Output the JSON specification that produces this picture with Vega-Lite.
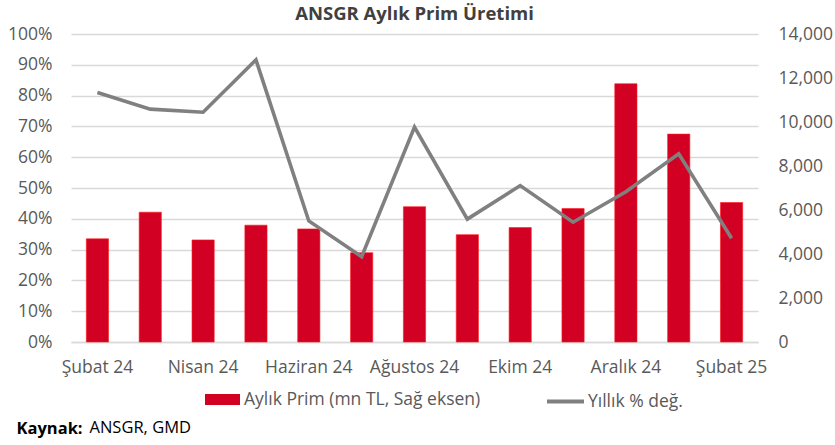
{
  "$schema": "https://vega.github.io/schema/vega-lite/v6.json",
  "background": "white",
  "padding": {"left": 7, "right": 2, "top": 4, "bottom": 4},
  "config": {
    "font": "Open Sans",
    "view": {"stroke": null},
    "concat": {"spacing": 0}
  },
  "title": {"text": "ANSGR, GMD", "orient": "bottom", "anchor": "start", "fontSize": 16.5, "fontWeight": "normal", "color": "#000000", "font": "Open Sans", "dx": 82, "dy": -18, "offset": 0},
  "vconcat": [
    {
      "title": {"text": "Kaynak:", "orient": "bottom", "anchor": "start", "fontSize": 16.5, "fontWeight": "bold", "color": "#000000", "font": "Open Sans", "dx": 9, "offset": 11},
      "vconcat": [
        {
          "width": 687,
          "height": 308,
          "title": {"text": "ANSGR Aylık Prim Üretimi", "fontSize": 18.5, "fontWeight": "bold", "color": "#404040", "font": "Open Sans", "anchor": "middle", "offset": 2},
          "data": {"values": [
            {"ay": "Şubat 24", "prim": 4690, "degisim": 0.810},
            {"ay": "Mart 24", "prim": 5900, "degisim": 0.756},
            {"ay": "Nisan 24", "prim": 4640, "degisim": 0.746},
            {"ay": "Mayıs 24", "prim": 5310, "degisim": 0.916},
            {"ay": "Haziran 24", "prim": 5140, "degisim": 0.393},
            {"ay": "Temmuz 24", "prim": 4060, "degisim": 0.277},
            {"ay": "Ağustos 24", "prim": 6150, "degisim": 0.698},
            {"ay": "Eylül 24", "prim": 4880, "degisim": 0.399},
            {"ay": "Ekim 24", "prim": 5200, "degisim": 0.508},
            {"ay": "Kasım 24", "prim": 6065, "degisim": 0.389},
            {"ay": "Aralık 24", "prim": 11740, "degisim": 0.488},
            {"ay": "Ocak 25", "prim": 9450, "degisim": 0.611},
            {"ay": "Şubat 25", "prim": 6340, "degisim": 0.337}
          ]},
          "encoding": {
            "x": {
              "field": "ay", "type": "ordinal", "sort": null,
              "scale": {"paddingInner": 0.58, "paddingOuter": 0.29},
              "axis": {
                "title": null, "labelAngle": 0, "ticks": false, "tickSize": 0,
                "values": ["Şubat 24", "Nisan 24", "Haziran 24", "Ağustos 24", "Ekim 24", "Aralık 24", "Şubat 25"],
                "labelFontSize": 17.5, "labelColor": "#595959", "labelPadding": 16,
                "domainColor": "#D9D9D9", "domainWidth": 1.5
              }
            }
          },
          "layer": [
            {
              "mark": {"type": "bar", "stroke": "#FF1A1A", "strokeWidth": 0.6},
              "encoding": {
                "y": {
                  "field": "prim", "type": "quantitative",
                  "scale": {"domain": [0, 14000]},
                  "axis": {
                    "orient": "right", "title": null, "grid": false, "domain": false,
                    "ticks": false, "tickSize": 0,
                    "values": [0, 2000, 4000, 6000, 8000, 10000, 12000, 14000],
                    "format": ",.0f", "labelFontSize": 17.5, "labelColor": "#595959", "labelPadding": 20
                  }
                },
                "fill": {
                  "datum": "Aylık Prim (mn TL, Sağ eksen)",
                  "scale": {"range": ["#D20022"]},
                  "legend": {
                    "orient": "none", "legendX": 134, "legendY": 348, "title": null,
                    "symbolType": "M-1,-0.31H1V0.31H-1Z", "symbolSize": 1225,
                    "symbolStrokeWidth": 0,
                    "labelFontSize": 17.5, "labelColor": "#595959", "labelOffset": 4, "labelLimit": 400,
                    "padding": 0
                  }
                }
              }
            },
            {
              "mark": {"type": "line", "strokeWidth": 3.6},
              "encoding": {
                "y": {
                  "field": "degisim", "type": "quantitative",
                  "scale": {"domain": [0, 1]},
                  "axis": {
                    "orient": "left", "title": null, "domain": false,
                    "ticks": false, "tickSize": 0,
                    "values": [0, 0.1, 0.2, 0.3, 0.4, 0.5, 0.6, 0.7, 0.8, 0.9, 1],
                    "format": ".0%", "labelFontSize": 17.5, "labelColor": "#595959", "labelPadding": 19,
                    "grid": true, "gridColor": "#D9D9D9", "gridWidth": 1.5
                  }
                },
                "stroke": {
                  "datum": "Yıllık % değ.",
                  "scale": {"range": ["#808080"]},
                  "legend": {
                    "orient": "none", "legendX": 474, "legendY": 347, "title": null,
                    "symbolType": "stroke", "symbolSize": 1369, "symbolStrokeWidth": 4,
                    "labelFontSize": 17.5, "labelColor": "#595959", "labelOffset": 2, "labelLimit": 400,
                    "padding": 0
                  }
                }
              }
            }
          ],
          "resolve": {"scale": {"y": "independent", "fill": "independent", "stroke": "independent"}}
        }
      ]
    }
  ]
}
